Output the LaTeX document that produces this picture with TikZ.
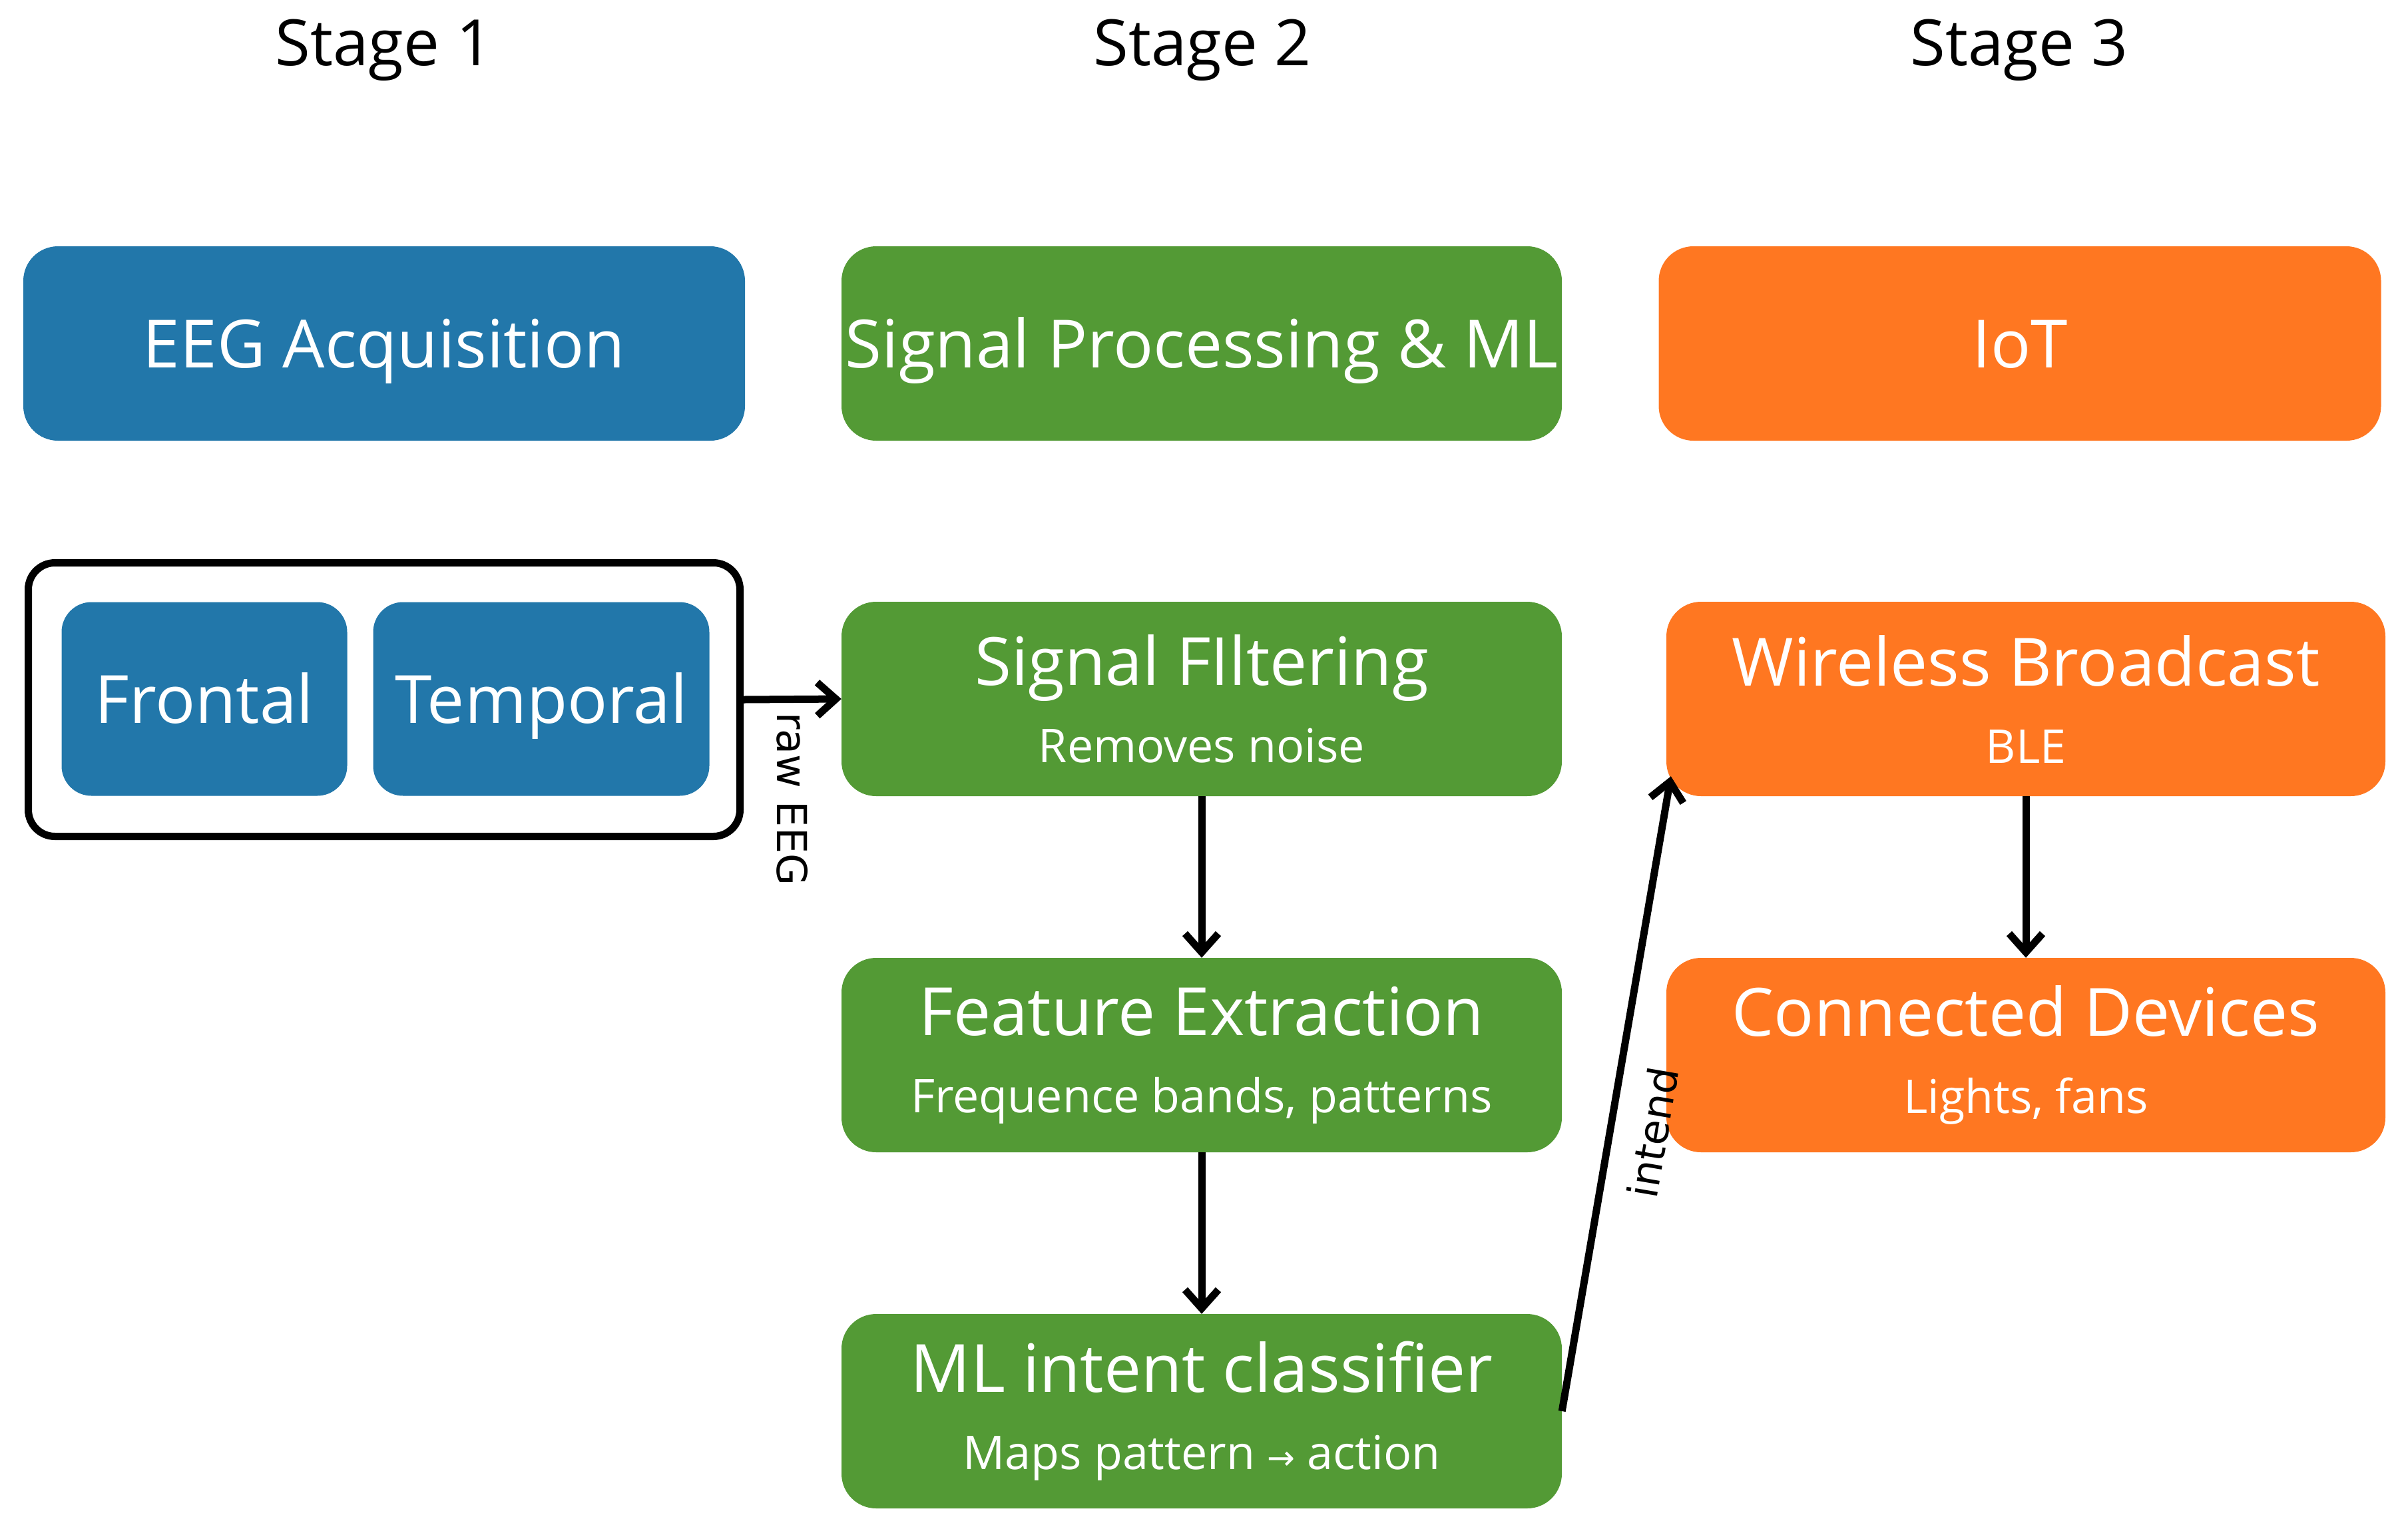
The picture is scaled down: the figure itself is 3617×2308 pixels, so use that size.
\documentclass[tikz,border=0pt]{standalone}
\usepackage{fontspec}
\setmainfont{Open Sans}
\newfontfamily\dejavu{DejaVu Sans}
\usetikzlibrary{arrows.meta,calc}
\definecolor{cblue}{HTML}{2277AA}
\definecolor{cgreen}{HTML}{539A35}
\definecolor{corange}{HTML}{FF7721}
\newcommand\boxsub{\fontsize{70}{116}\selectfont}
\begin{document}
\begin{tikzpicture}[x=1pt,y=-1pt,
  box/.style={rounded corners=52pt, minimum width=1082pt, minimum height=292pt,
    inner sep=0pt, text=white, align=center, font=\fontsize{100}{116}\selectfont},
  oneline/.style={text height=72pt, text depth=0pt},
  bluebox/.style={box, fill=cblue},
  greenbox/.style={box, fill=cgreen},
  orangebox/.style={box, fill=corange},
  conn/.style={line width=11pt, -{Straight Barb[length=28pt,width=50pt]}},
  stagelbl/.style={font=\fontsize{96}{110}\selectfont},
  clbl/.style={font=\dejavu\fontsize{62}{70}\selectfont}
]
\useasboundingbox (0,0) rectangle (3617,2308);

% stage headers
\node[stagelbl] (s1) at (577,75) {Stage 1};
\node[stagelbl] (s2) at (1806,75) {Stage 2};
\node[stagelbl] (s3) at (3033,75) {Stage 3};

% top row
\node[bluebox, oneline, minimum width=1084pt] (eeg) at (577,516) {EEG Acquisition};
\node[greenbox, oneline] (spml) at (1805,516) {Signal Processing \& ML};
\node[orangebox, oneline, minimum width=1085pt] (iot) at (3034,516) {IoT};

% group of electrodes
\node[draw, line width=11pt, rounded corners=40pt, minimum width=1069pt, minimum height=411pt, inner sep=0pt] (grp) at (577,1051) {};
\node[bluebox, oneline, minimum width=429pt, minimum height=291pt, rounded corners=45pt] (fr) at (307,1050) {Frontal};
\node[bluebox, oneline, minimum width=505pt, minimum height=291pt, rounded corners=45pt] (tp) at (813,1050) {Temporal};

% stage 2 column
\node[greenbox] (sf) at (1805,1050) {Signal FIltering\\{\boxsub Removes noise}};
\node[greenbox] (fe) at (1805,1585) {Feature Extraction\\{\boxsub Frequence bands, patterns}};
\node[greenbox] (ml) at (1805,2120) {ML intent classifier\\{\boxsub Maps pattern {\dejavu\fontsize{50}{116}\selectfont →} action}};

% stage 3 column
\node[orangebox, minimum width=1080pt] (wb) at (3043,1050) {Wireless Broadcast\\{\boxsub BLE}};
\node[orangebox, minimum width=1080pt] (cd) at (3043,1585) {Connected Devices\\{\boxsub Lights, fans}};

% connectors
\draw[conn] (grp.east) -- (sf.west)
  node[midway, rotate=-90, anchor=west, clbl, inner sep=14pt] {raw EEG};
\draw[conn] (sf.south) -- (fe.north);
\draw[conn] (fe.south) -- (ml.north);
\coordinate (wbin) at ([xshift=7pt,yshift=30pt]wb.south west);
\draw[conn] (ml.east) -- (wbin)
  node[pos=0.45, sloped, below, clbl, inner sep=34pt] {intend};
\draw[conn] (wb.south) -- (cd.north);
\end{tikzpicture}
\end{document}
